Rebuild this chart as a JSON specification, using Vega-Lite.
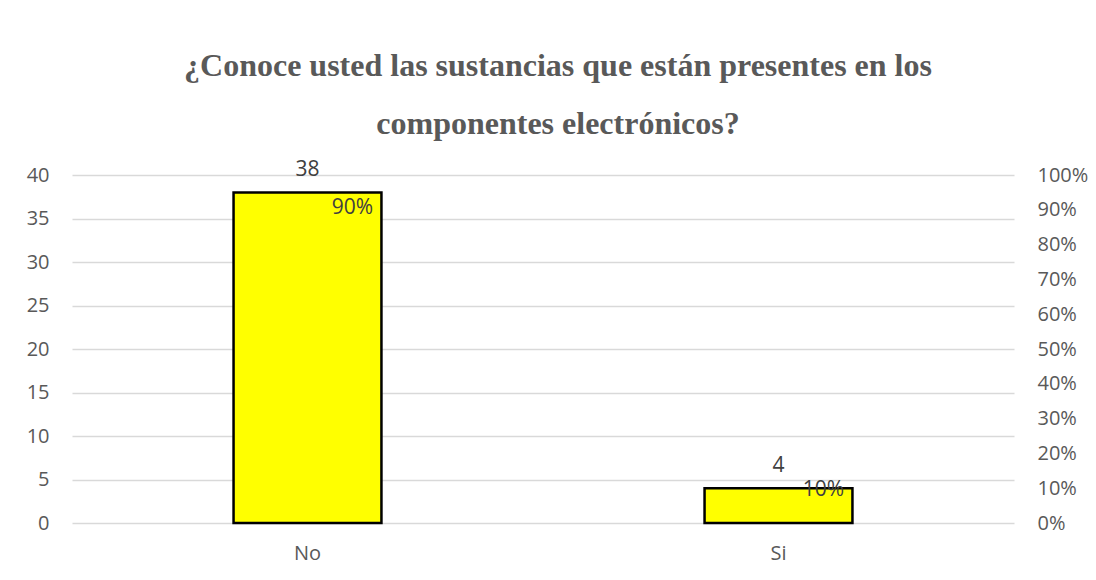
{
  "$schema": "https://vega.github.io/schema/vega-lite/v6.json",
  "width": 942,
  "height": 348,
  "autosize": {"type": "pad"},
  "padding": {"left": 26, "top": 50, "right": 0, "bottom": 12},
  "background": "#ffffff",
  "title": {
    "text": ["¿Conoce usted las sustancias que están presentes en los", "componentes electrónicos?"],
    "font": "Liberation Serif",
    "fontSize": 32,
    "fontWeight": "bold",
    "color": "#595959",
    "lineHeight": 58,
    "anchor": "middle",
    "dx": 15,
    "offset": 18
  },
  "data": {
    "values": [
      {"cat": "No", "n": 38, "pct": 0.9048},
      {"cat": "Si", "n": 4, "pct": 0.0952}
    ]
  },
  "encoding": {
    "x": {
      "field": "cat",
      "type": "nominal",
      "sort": null,
      "scale": {"paddingInner": 0, "paddingOuter": 0},
      "axis": {
        "title": null,
        "labelAngle": 0,
        "domain": false,
        "ticks": false,
        "labelFont": "Open Sans",
        "labelFontSize": 20,
        "labelColor": "#595959",
        "labelPadding": 20
      }
    }
  },
  "layer": [
    {
      "encoding": {
        "y": {
          "field": "n",
          "type": "quantitative",
          "scale": {"domain": [0, 40], "nice": false},
          "axis": {
            "title": null,
            "values": [0, 5, 10, 15, 20, 25, 30, 35, 40],
            "domain": false,
            "ticks": false,
            "grid": true,
            "gridColor": "#d9d9d9",
            "gridWidth": 1.5,
            "labelFont": "Open Sans",
            "labelFontSize": 20,
            "labelColor": "#595959",
            "labelPadding": 23
          }
        }
      },
      "layer": [
        {
          "mark": {"type": "bar", "fill": "#ffff00", "stroke": "#000000", "strokeWidth": 2.5, "width": {"band": 0.314}}
        },
        {
          "mark": {"type": "text", "baseline": "alphabetic", "dy": -16, "font": "Open Sans", "fontSize": 21, "color": "#404040"},
          "encoding": {"text": {"field": "n", "type": "quantitative"}}
        }
      ]
    },
    {
      "mark": {"type": "text", "align": "center", "baseline": "middle", "dx": 45, "font": "Open Sans", "fontSize": 21, "color": "#404040"},
      "encoding": {
        "y": {
          "field": "pct",
          "type": "quantitative",
          "scale": {"domain": [0, 1], "nice": false},
          "axis": {
            "orient": "right",
            "title": null,
            "format": ".0%",
            "values": [0, 0.1, 0.2, 0.3, 0.4, 0.5, 0.6, 0.7, 0.8, 0.9, 1],
            "domain": false,
            "ticks": false,
            "grid": false,
            "labelFont": "Open Sans",
            "labelFontSize": 20,
            "labelColor": "#595959",
            "labelPadding": 23
          }
        },
        "text": {"field": "pct", "type": "quantitative", "format": ".0%"}
      }
    }
  ],
  "resolve": {"scale": {"y": "independent"}},
  "config": {"view": {"stroke": null}}
}
